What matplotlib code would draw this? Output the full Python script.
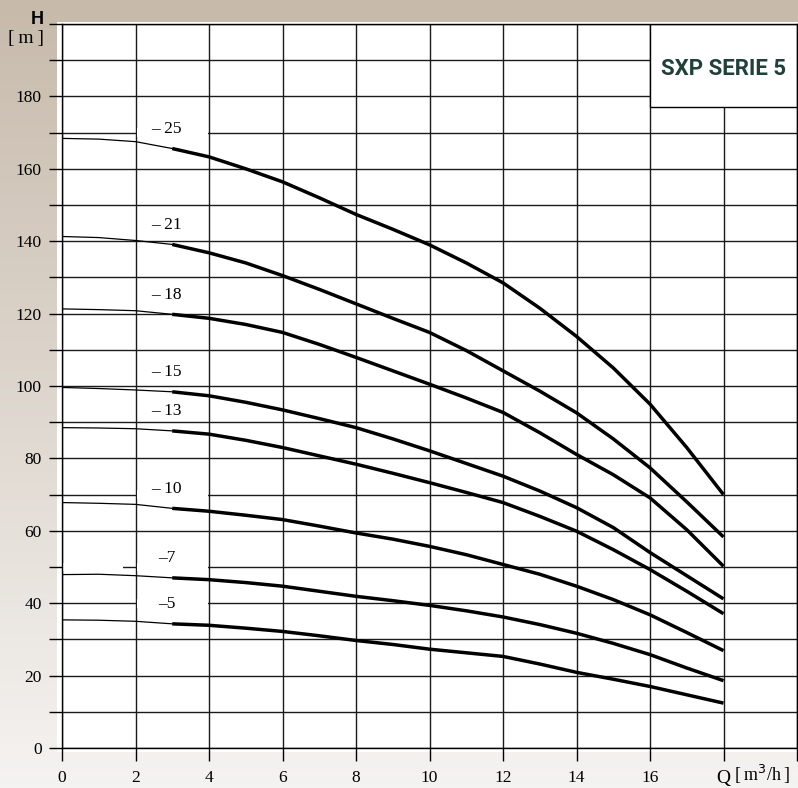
import numpy as np
import matplotlib
matplotlib.use("Agg")
import matplotlib.pyplot as plt
from matplotlib.patches import Rectangle

# flow rate Q [m3/h]
q = [0, 1, 2, 3, 4, 5, 6, 7, 8, 9, 10, 11, 12, 13, 14, 15, 16, 17, 18]

# head H [m] per model
h_25 = [168.4, 168.2, 167.5, 165.6, 163.3, 160.0, 156.4, 152.0, 147.4, 143.3,
        139.0, 134.0, 128.5, 121.5, 113.7, 105.0, 95.0, 83.0, 70.0]
h_21 = [141.3, 141.0, 140.2, 139.1, 136.8, 134.0, 130.5, 126.7, 122.7, 118.7,
        114.8, 109.8, 104.2, 98.6, 92.6, 85.4, 77.4, 68.0, 58.3]
h_18 = [121.3, 121.1, 120.8, 119.8, 118.7, 117.0, 114.8, 111.5, 107.9, 104.2,
        100.5, 96.7, 92.7, 87.1, 81.1, 75.5, 69.1, 60.3, 50.2]
h_15 = [99.6, 99.3, 98.9, 98.4, 97.3, 95.5, 93.4, 91.0, 88.5, 85.4,
        82.1, 78.6, 75.1, 71.0, 66.4, 60.9, 54.0, 47.6, 41.2]
h_13 = [88.5, 88.4, 88.2, 87.6, 86.7, 85.0, 83.0, 80.7, 78.4, 75.9,
        73.3, 70.6, 67.8, 64.0, 59.9, 54.8, 49.3, 43.3, 37.1]
h_10 = [67.8, 67.6, 67.3, 66.2, 65.4, 64.3, 63.1, 61.3, 59.4, 57.7,
        55.7, 53.4, 50.7, 48.0, 44.7, 41.0, 36.8, 31.9, 26.9]
h_7 = [47.9, 48.0, 47.6, 47.0, 46.5, 45.7, 44.7, 43.3, 41.9, 40.7,
       39.4, 37.9, 36.2, 34.1, 31.7, 28.9, 25.8, 22.1, 18.6]
h_5 = [35.4, 35.3, 35.0, 34.3, 33.9, 33.1, 32.2, 31.0, 29.7, 28.6,
       27.3, 26.3, 25.3, 23.2, 20.9, 19.0, 17.0, 14.7, 12.4]

curves = [h_25, h_21, h_18, h_15, h_13, h_10, h_7, h_5]
labels = ["\u2013 25", "\u2013 21", "\u2013 18", "\u2013 15", "\u2013 13",
          "\u2013 10", "\u20137", "\u20135"]

x_ticks = [0, 2, 4, 6, 8, 10, 12, 14, 16, 18]
x_ticklabels = ["0", "2", "4", "6", "8", "10", "12", "14", "16", "Q"]

serif = "Liberation Serif"

fig = plt.figure(figsize=(7.98, 7.88), dpi=100)

# beige to light grey backdrop
bg = fig.add_axes([0, 0, 1, 1], zorder=-10)
top = np.array([199, 186, 171]) / 255
bottom = np.array([245, 243, 241]) / 255
t = np.linspace(0, 1, 256)[:, None]
grad = top[None, :] * (1 - t) + bottom[None, :] * t
bg.imshow(grad[:, None, :], aspect="auto", extent=[0, 1, 0, 1])
bg.axis("off")

# white sheet slightly bigger than the axes
fig.patches.append(Rectangle((57 / 798, 36 / 788), 1 - 57 / 798, 1 - 36 / 788 - 22 / 788,
                             transform=fig.transFigure, facecolor="white",
                             edgecolor="none", zorder=-5))

ax = fig.add_axes([62 / 798, 40 / 788, 735 / 798, 724 / 788])
ax.set_facecolor("white")
ax.set_xlim(0, 20)
ax.set_ylim(0, 200)
ax.set_axisbelow(True)

ax.set_xticks(x_ticks)
ax.set_xticklabels(x_ticklabels)
ax.set_xticks(range(0, 21, 2), minor=True)
y_ticks = list(range(0, 201, 10))
ax.set_yticks(y_ticks)
ax.set_yticklabels([str(v) if v % 20 == 0 and v < 200 else "" for v in y_ticks])
ax.grid(True, which="both", color="#1a1a1a", linewidth=1.0)
ax.tick_params(which="both", direction="out", length=9.5, width=1.0, color="black",
               labelsize=12.5)
ax.tick_params(axis="y", pad=5)
ax.tick_params(axis="x", pad=6)
for lab in ax.get_xticklabels() + ax.get_yticklabels():
    lab.set_fontfamily(serif)
ax.get_xticklabels()[-1].set_fontsize(14)
for sp in ax.spines.values():
    sp.set_color("black")
    sp.set_linewidth(1.0)

# white patches that hide bits of the grid behind the labels
for (x0, x1, yc) in [(2.04, 3.96, 170), (2.04, 3.96, 70), (2.04, 3.96, 50),
                     (0.04, 1.67, 50), (2.04, 3.96, 40)]:
    ax.add_patch(Rectangle((x0, yc - 1.2), x1 - x0, 2.4, facecolor="white",
                           edgecolor="none", zorder=1))

for h, lab in zip(curves, labels):
    ax.plot(q[:4], h[:4], color="black", linewidth=0.9, zorder=3)
    ax.plot(q[3:], h[3:], color="black", linewidth=2.5, zorder=3,
            solid_capstyle="butt")
    ax.annotate(lab, xy=(q[3], h[3]), xytext=(-4, 14), textcoords="offset points",
                ha="center", va="center", fontsize=12.5, fontfamily=serif, zorder=4)

# title box in the upper right corner
ax.add_patch(Rectangle((16, 177), 4, 23, facecolor="white", edgecolor="black",
                       linewidth=1.0, zorder=2))
ax.text(18, 187.5, "SXP SERIE 5", ha="center", va="center", fontsize=16,
        fontweight="bold", fontfamily="Roboto", color="#21403a", zorder=5)

# axis units
fig.text(37 / 798, 1 - 19 / 788, "H", ha="center", va="center", fontsize=13,
         fontweight="bold", fontfamily="Liberation Sans")
fig.text(26 / 798, 1 - 39 / 788, "[\u2009m\u2009]", ha="center", va="center",
         fontsize=14, fontfamily=serif)
fig.text(734 / 798, 1 - 774 / 788, "[\u2009m$^3$/h\u2009]", ha="left", va="center",
         fontsize=13, fontfamily=serif)

fig.savefig("out.png", dpi=100)
